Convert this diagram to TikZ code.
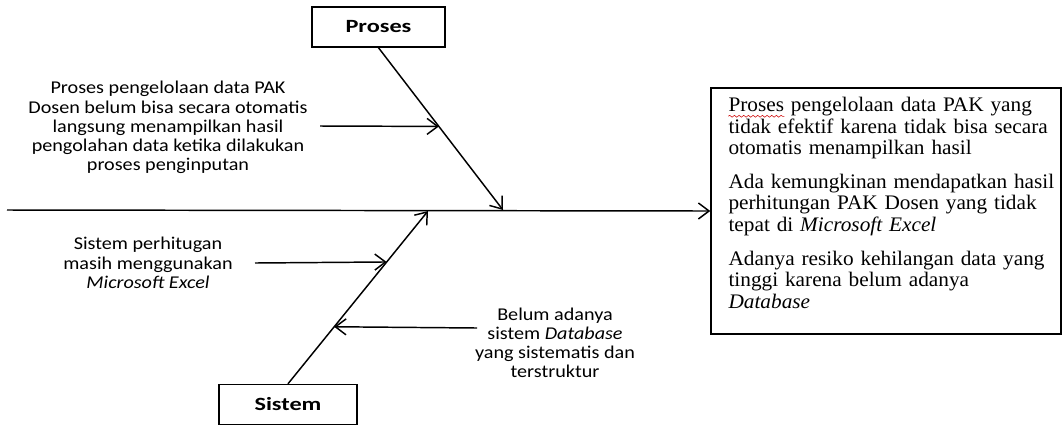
\documentclass[tikz,border=0pt]{standalone}
\usepackage{fontspec}
\setmainfont{Liberation Serif}[FakeStretch=1.03]
\newfontfamily\calibri{Carlito}[FakeStretch=1.12]
\newfontfamily\calibriwide{Carlito}[FakeStretch=1.3]
\usetikzlibrary{positioning,calc,arrows.meta,decorations.pathmorphing}

\begin{document}
\begin{tikzpicture}[x=0.75pt,y=-0.75pt,
  bone/.style={line width=1.1pt,-{Straight Barb[length=8pt,width=12pt,line width=1.1pt]}},
  category/.style={draw,line width=1.1pt,minimum width=100pt,minimum height=30pt,font=\calibriwide\bfseries\fontsize{14}{16}\selectfont},
  causetext/.style={align=center,font=\calibri\fontsize{13.5}{14.4}\selectfont},
  effecttext/.style={align=left,text width=246pt,inner sep=0pt,font=\fontsize{15.5}{16.1}\selectfont}]
\useasboundingbox (0,0) rectangle (1063,426);

\node[category] (proses) at (378.5,27) {Proses};
\node[category,
      minimum width=103.5pt
     ]
     (sistem) at (288,404.5) {Sistem};
\node[draw,
      line width=1.1pt,
      minimum width=262.5pt,
      minimum height=184.5pt
     ]
     (effect) at (886,211) {};
\node[effecttext,
      anchor=north west
     ]
     (effecttxt) at ([xshift=13.5pt,yshift=-7.5pt]effect.north west)
     {\makebox[\linewidth][s]{Proses pengelolaan data PAK yang}\\
      tidak efektif karena tidak bisa secara\\
      otomatis menampilkan hasil\\[9pt]
      Ada kemungkinan mendapatkan hasil\\
      perhitungan PAK Dosen yang tidak\\
      tepat di \textit{Microsoft Excel}\\[9.5pt]
      Adanya resiko kehilangan data yang\\
      tinggi karena belum adanya\\
      \textit{Database}};
\draw[red!80!black,line width=0.4pt,decorate,decoration={snake,amplitude=0.7pt,segment length=3.5pt}]
     ($(effecttxt.north west)+(0,19)$) -- ++(56,0);

% causes
\node[causetext] (causeP) at (168,127.5) {Proses pengelolaan data PAK\\Dosen belum bisa secara otomatis\\langsung menampilkan hasil\\pengolahan data ketika dilakukan\\proses penginputan};
\node[causetext] (causeS1) at (148,263) {Sistem perhitugan\\masih menggunakan\\\textit{Microsoft Excel}};
\node[causetext] (causeS2) at (555,343) {Belum adanya\\sistem \textit{Database}\\yang sistematis dan\\terstruktur};

% spine and bones
\coordinate (tail) at (7,210);
\coordinate (pHead) at (503,210);
\coordinate (sHead) at (428,211);
\draw[bone] (tail) -- (effect.west);
\draw[bone] (proses.south) -- (pHead);
\draw[bone] (sistem.north) -- (sHead);

% arrows from the causes
\coordinate (pStart) at (320,126);
\coordinate (s1Start) at (255,263);
\coordinate (s2Start) at (477,328);
\draw[bone] (pStart) -- ($(proses.south)!0.485!(pHead)$);
\draw[bone] (s1Start) -- ($(sistem.north)!0.705!(sHead)$);
\draw[bone] (s2Start) -- ($(sistem.north)!0.33!(sHead)$);
\end{tikzpicture}
\end{document}
